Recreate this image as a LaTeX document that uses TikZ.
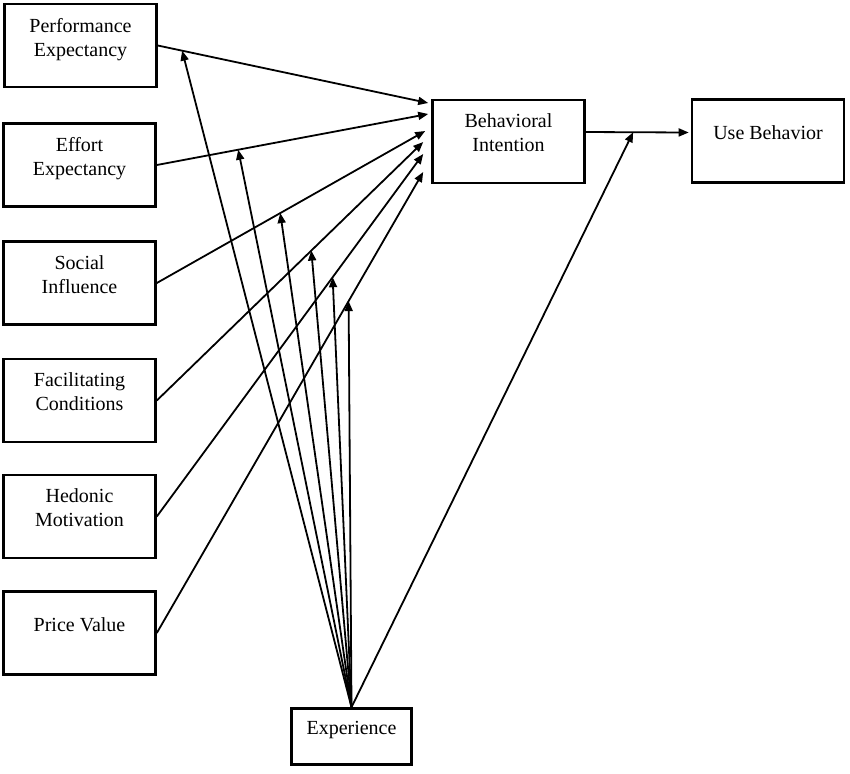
\documentclass[tikz,border=0pt]{standalone}
\usepackage{fontspec}
\setmainfont{Liberation Serif}
\usetikzlibrary{arrows.meta,calc}
\begin{document}
\begin{tikzpicture}[x=0.5pt,y=-0.5pt,
  factor/.style={draw, line width=1.3pt, minimum width=76pt, minimum height=41.5pt,
    inner sep=0pt, align=center, text depth=8.5pt, font=\fontsize{10}{12}\selectfont},
  link/.style={line width=0.9pt, -{Triangle[length=5pt,width=4pt]}}]
\useasboundingbox (0,0) rectangle (850,773);
% the constructs on the left
\node[factor] (pe) at (80.5,45.5) {Performance\\Expectancy};
\node[factor] (ee) at (79.5,165) {Effort\\Expectancy};
\node[factor] (si) at (79.5,283) {Social\\Influence};
\node[factor] (fc) at (79.5,400.5) {Facilitating\\Conditions};
\node[factor] (hm) at (79.5,516.5) {Hedonic\\Motivation};
\node[factor] (pv) at (79.5,633) {Price Value};
% intention, behaviour and the moderator
\node[factor] (bi) at (508.5,141.5) {Behavioral\\Intention};
\node[factor] (ub) at (768,141) {Use Behavior};
\node[factor, minimum width=60pt, minimum height=28pt] (ex) at (351.5,736.5) {Experience};
% direct effects
\draw[link] (pe.east) -- coordinate[pos=0.09] (m1) ($(bi.west)+(-3,-38.5)$);
\draw[link] (ee.east) -- coordinate[pos=0.30] (m2) ($(bi.west)+(-3,-27.5)$);
\draw[link] (si.east) -- coordinate[pos=0.46] (m3) ($(bi.west)+(-6,-10.5)$);
\draw[link] (fc.east) -- coordinate[pos=0.58] (m4) ($(bi.west)+(-8,0.5)$);
\draw[link] (hm.east) -- coordinate[pos=0.66] (m5) ($(bi.west)+(-8,12.5)$);
\draw[link] (pv.east) -- coordinate[pos=0.72] (m6) ($(bi.west)+(-8,30.5)$);
\draw[link] ($(bi.east)+(0,-9.5)$) -- coordinate[pos=0.46] (m7) ($(ub.west)+(-2,-8.5)$);
% moderating effects of experience
\foreach \i in {1,...,7}
  \draw[link] (ex.north) -- (m\i);
\end{tikzpicture}
\end{document}
